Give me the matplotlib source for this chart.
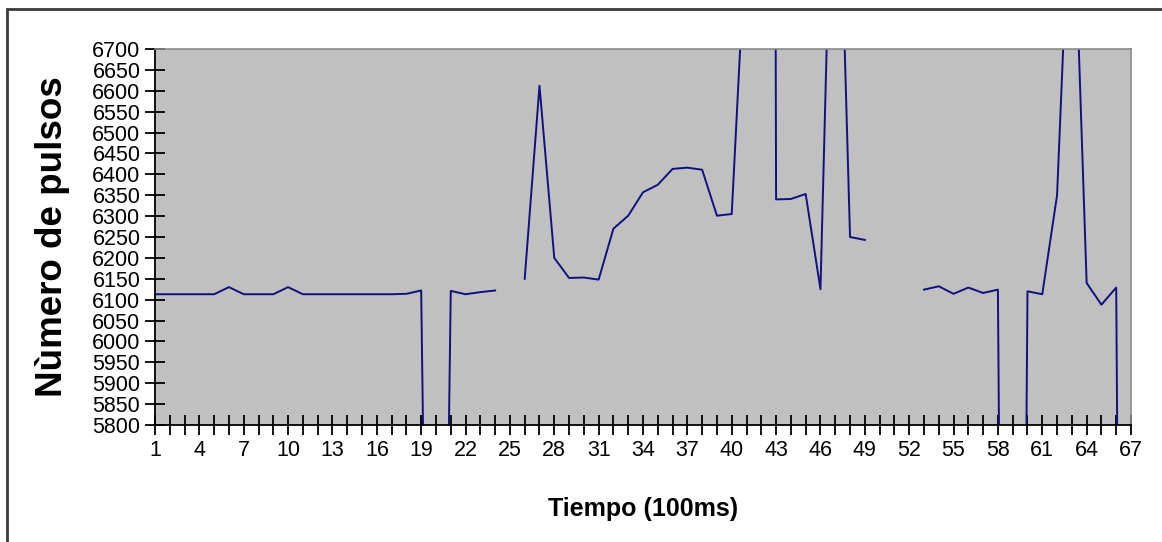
import numpy as np
import matplotlib
matplotlib.use("Agg")
import matplotlib.pyplot as plt
from matplotlib.patches import Rectangle

plt.rcParams['font.family'] = ['Liberation Sans', 'DejaVu Sans']

# tiempo en pasos de 100 ms (categorias 1..67)
tiempo = np.arange(1, 68)
# numero de pulsos (nan = sin dato, fuera de rango se recorta)
pulsos = [6113, 6113, 6113, 6113, 6113, 6130, 6113, 6113, 6113, 6130,
          6113, 6113, 6113, 6113, 6113, 6113, 6113, 6114, 6122, 3500,
          6121, 6113, 6118, 6122, np.nan, 6150, 6612, 6200, 6152, 6153,
          6148, 6270, 6301, 6357, 6375, 6413, 6416, 6411, 6301, 6305,
          7000, 20000, 6340, 6341, 6353, 6125, 7500, 6250, 6243, np.nan,
          np.nan, np.nan, 6124, 6132, 6114, 6129, 6116, 6124, 1500, 6120,
          6113, 6350, 7200, 6140, 6088, 6129, 1000]
etiquetas_x = [str(t) if (t - 1) % 3 == 0 else "" for t in tiempo]
ticks_y = np.arange(5800, 6701, 50)

W, H = 1162, 542
fig = plt.figure(figsize=(W / 100, H / 100), dpi=100)
fig.patch.set_facecolor("white")

# marco exterior del area del grafico (derecha y abajo quedan fuera de la imagen)
fig.patches.append(Rectangle((7 / W, -0.05), 1.1, 1.05 - 9 / H,
                             transform=fig.transFigure, fill=False,
                             edgecolor="#3a3a3a", linewidth=2.0))

ax = fig.add_axes([155 / W, 1 - 425 / H, (1131 - 155) / W, (425 - 49) / H])
ax.set_facecolor("#c0c0c0")
ax.plot(tiempo, pulsos, color="#10107f", linewidth=1.4)

ax.set_xlim(1, 67)
ax.set_ylim(5800, 6700)
ax.set_xticks(tiempo)
ax.set_xticklabels(etiquetas_x)
ax.set_yticks(ticks_y)
ax.set_yticklabels([str(v) for v in ticks_y])

ax.tick_params(axis="x", direction="inout", length=15, width=1.3, pad=3,
               labelsize=15.5, colors="black")
ax.tick_params(axis="y", direction="inout", length=15, width=1.3, pad=3,
               labelsize=15.5, colors="black")

for s in ["left", "bottom"]:
    ax.spines[s].set_color("black")
    ax.spines[s].set_linewidth(1.3)
for s in ["top", "right"]:
    ax.spines[s].set_color("#8a8a8a")
    ax.spines[s].set_linewidth(1.2)

ax.set_xlabel("Tiempo (100ms)", fontsize=18, fontweight="bold", labelpad=26)
ax.set_ylabel("Nùmero de pulsos", fontsize=26.5, fontweight="bold", labelpad=16)

fig.savefig("out.png", dpi=100)
